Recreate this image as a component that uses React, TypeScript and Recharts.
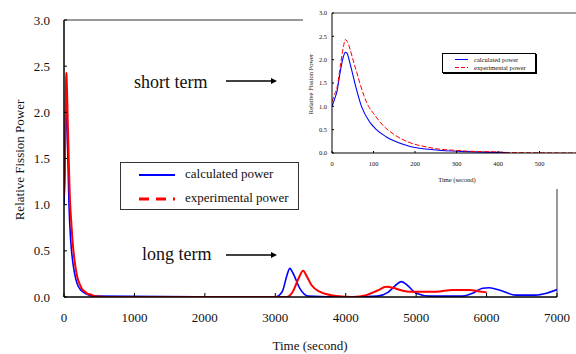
import React from "react";
import {
  LineChart,
  Line,
  XAxis,
  YAxis,
  ReferenceLine,
  Legend,
  Customized,
} from "recharts";

// ---- short term (first ~600 s) ----
const calcShortT = [0, 6, 12, 20, 28, 32, 36, 44, 55, 71, 92, 107, 130, 149, 188, 245, 325, 427];
const calcShortV = [1.0, 1.15, 1.32, 1.75, 2.08, 2.16, 2.14, 1.9, 1.5, 1.0, 0.65, 0.5, 0.35, 0.26, 0.14, 0.07, 0.03, 0.01];
const expShortT = [0, 6, 12, 20, 28, 32, 36, 44, 52, 60, 67, 88, 100, 124, 149, 188, 228, 261, 293, 325, 405, 420, 600];
const expShortV = [1.1, 1.25, 1.4, 1.86, 2.3, 2.43, 2.4, 2.21, 1.95, 1.72, 1.5, 1.0, 0.85, 0.58, 0.4, 0.22, 0.13, 0.08, 0.06, 0.04, 0.02, 0.01, 0];

// ---- long term ----
const calcLongT = [3000, 3100, 3160, 3206, 3250, 3348, 3466, 4000, 4450, 4600, 4700, 4787, 4870, 5000, 5190, 5660, 5800, 5943, 6038, 6200, 6415, 6698, 6850, 7000];
const calcLongV = [0, 0.06, 0.22, 0.31, 0.26, 0.094, 0.01, 0, 0.01, 0.05, 0.12, 0.166, 0.13, 0.04, 0.01, 0.01, 0.04, 0.094, 0.1, 0.07, 0.02, 0.02, 0.04, 0.08];
const expLongT = [3160, 3250, 3330, 3395, 3450, 3513, 3631, 3867, 4103, 4292, 4450, 4575, 4670, 4800, 4905, 5283, 5519, 5755, 5900, 6000];
const expLongV = [0, 0.06, 0.2, 0.285, 0.22, 0.13, 0.057, 0.01, 0, 0.02, 0.07, 0.11, 0.1, 0.07, 0.057, 0.057, 0.076, 0.076, 0.06, 0.05];

// ---- ticks ----
const mainXTicks = [0, 1000, 2000, 3000, 4000, 5000, 6000, 7000];
const yTicks = [0, 0.5, 1.0, 1.5, 2.0, 2.5, 3.0];
const insetXTicks = [0, 100, 200, 300, 400, 500, 600];

const seriesNames = ["calculated power", "experimental power"];

const zip = (ts: number[], vs: number[]) => ts.map((t, i) => ({ t, v: vs[i] }));

const calcMain = zip([...calcShortT, ...calcLongT], [...calcShortV, ...calcLongV]);
const expMain = zip([...expShortT, ...expLongT], [...expShortV, ...expLongV]);
const calcInset = zip(calcShortT, calcShortV);
const expInset = zip(expShortT, expShortV);

const FONT = "'Liberation Serif', 'Times New Roman', serif";
const BLUE = "#0000ff";
const RED = "#ff0000";

const MainLegend = () => (
  <div
    style={{
      position: "relative",
      width: 179,
      height: 48,
      boxSizing: "border-box",
      border: "1px solid #333",
      background: "#fff",
      fontFamily: FONT,
      fontSize: 13,
      color: "#111",
    }}
  >
    <svg width={40} height={48} style={{ position: "absolute", left: 17, top: 0 }}>
      <line x1={1} x2={37} y1={12} y2={12} stroke={BLUE} strokeWidth={2} />
      <line x1={1} x2={37} y1={36} y2={36} stroke={RED} strokeWidth={3} strokeDasharray="10 7" />
    </svg>
    <div style={{ position: "absolute", left: 64, top: 3, whiteSpace: "nowrap" }}>{seriesNames[0]}</div>
    <div style={{ position: "absolute", left: 64, top: 27, whiteSpace: "nowrap" }}>{seriesNames[1]}</div>
  </div>
);

const InsetLegend = () => (
  <div
    style={{
      position: "relative",
      width: 94,
      height: 20,
      boxSizing: "border-box",
      border: "1px solid #000",
      boxShadow: "1px 1px 0 #000",
      background: "#fff",
      fontFamily: FONT,
      fontSize: 6.5,
      color: "#111",
    }}
  >
    <svg width={16} height={20} style={{ position: "absolute", left: 11, top: 0 }}>
      <line x1={1} x2={14} y1={5.5} y2={5.5} stroke={BLUE} strokeWidth={1} />
      <line x1={1} x2={14} y1={13.5} y2={13.5} stroke={RED} strokeWidth={1} strokeDasharray="4 2" />
    </svg>
    <div style={{ position: "absolute", left: 31, top: 1.5, whiteSpace: "nowrap", lineHeight: "7px" }}>{seriesNames[0]}</div>
    <div style={{ position: "absolute", left: 31, top: 9.5, whiteSpace: "nowrap", lineHeight: "7px" }}>{seriesNames[1]}</div>
  </div>
);

const Arrow = ({ x1, x2, y }: { x1: number; x2: number; y: number }) => (
  <g>
    <line x1={x1} x2={x2 - 4} y1={y} y2={y} stroke="#000" strokeWidth={1.5} />
    <polygon points={`${x2},${y} ${x2 - 6},${y - 3} ${x2 - 6},${y + 3}`} fill="#000" />
  </g>
);

const MainAnnotations = () => (
  <g fontFamily={FONT}>
    <text x={134} y={88} fontSize={18} fill="#111">short term</text>
    <Arrow x1={226} x2={277} y={81} />
    <text x={142} y={260} fontSize={18} fill="#111">long term</text>
    <Arrow x1={226} x2={277} y={255} />
    <text x={310} y={350} fontSize={13} textAnchor="middle" fill="#111">Time (second)</text>
    <text x={-160} y={24} transform="rotate(-90)" fontSize={13} textAnchor="middle" fill="#111">
      Relative Fission Power
    </text>
  </g>
);

const InsetAnnotations = () => (
  <g fontFamily={FONT}>
    <text x={154} y={181.5} fontSize={6.5} textAnchor="middle" fill="#111">Time (second)</text>
    <text x={-84} y={10} transform="rotate(-90)" fontSize={6.5} textAnchor="middle" fill="#111">
      Relative Fission Power
    </text>
  </g>
);

export default function App() {
  return (
    <div
      style={{
        position: "absolute",
        left: 0,
        top: 0,
        width: 576,
        height: 354,
        overflow: "hidden",
        background: "#fff",
      }}
    >
      <LineChart width={576} height={354} margin={{ top: 20, right: 19, left: 0, bottom: 17 }}>
        <XAxis
          type="number"
          dataKey="t"
          domain={[0, 7000]}
          ticks={mainXTicks}
          allowDataOverflow
          height={40}
          tickSize={-4}
          tickMargin={20}
          axisLine={{ stroke: "#000", strokeWidth: 1.5 }}
          tickLine={{ stroke: "#000" }}
          tick={{ fontFamily: FONT, fontSize: 13, fill: "#111" }}
        />
        <YAxis
          type="number"
          domain={[0, 3]}
          ticks={yTicks}
          allowDataOverflow
          width={64}
          tickSize={-3}
          tickMargin={17}
          tickFormatter={(v: number) => v.toFixed(1)}
          axisLine={{ stroke: "#000", strokeWidth: 1.5 }}
          tickLine={{ stroke: "#000" }}
          tick={{ fontFamily: FONT, fontSize: 13, fill: "#111" }}
        />
        <ReferenceLine y={3} stroke="#777" strokeWidth={1.5} />
        <ReferenceLine x={7000} stroke="#777" strokeWidth={1.5} />
        <Line
          data={calcMain}
          dataKey="v"
          type="monotone"
          stroke={BLUE}
          strokeWidth={1.6}
          dot={false}
          isAnimationActive={false}
          name={seriesNames[0]}
        />
        <Line
          data={expMain}
          dataKey="v"
          type="monotone"
          stroke={RED}
          strokeWidth={2}
          dot={false}
          isAnimationActive={false}
          name={seriesNames[1]}
        />
        <Legend
          layout="vertical"
          align="center"
          verticalAlign="middle"
          content={() => <MainLegend />}
          wrapperStyle={{ position: "absolute", left: 120, top: 162, width: 179, height: 48 }}
        />
        <Customized component={MainAnnotations} />
      </LineChart>

      <div
        style={{
          position: "absolute",
          left: 303,
          top: 0,
          width: 273,
          height: 189,
          overflow: "hidden",
          background: "#fff",
        }}
      >
        <LineChart width={290} height={189} margin={{ top: 13, right: 12, left: 0, bottom: 16 }}>
          <XAxis
            type="number"
            dataKey="t"
            domain={[0, 600]}
            ticks={insetXTicks}
            allowDataOverflow
            height={20}
            tickSize={-2}
            tickMargin={10}
            axisLine={{ stroke: "#000", strokeWidth: 1 }}
            tickLine={{ stroke: "#000" }}
            tick={{ fontFamily: FONT, fontSize: 6.5, fill: "#111" }}
          />
          <YAxis
            type="number"
            domain={[0, 3]}
            ticks={yTicks}
            allowDataOverflow
            width={29}
            tickSize={-2}
            tickMargin={7}
            tickFormatter={(v: number) => v.toFixed(1)}
            axisLine={{ stroke: "#000", strokeWidth: 1 }}
            tickLine={{ stroke: "#000" }}
            tick={{ fontFamily: FONT, fontSize: 6.5, fill: "#111" }}
          />
          <ReferenceLine y={3} stroke="#444" strokeWidth={1.2} />
          <ReferenceLine x={600} stroke="#444" strokeWidth={1.2} />
          <Line
            data={calcInset}
            dataKey="v"
            type="monotone"
            stroke={BLUE}
            strokeWidth={1.1}
            dot={false}
            isAnimationActive={false}
            name={seriesNames[0]}
          />
          <Line
            data={expInset}
            dataKey="v"
            type="monotone"
            stroke={RED}
            strokeWidth={1}
            strokeDasharray="5 2"
            dot={false}
            isAnimationActive={false}
            name={seriesNames[1]}
          />
          <Legend
            layout="vertical"
            align="center"
            verticalAlign="middle"
            content={() => <InsetLegend />}
            wrapperStyle={{ position: "absolute", left: 139, top: 53, width: 94, height: 20 }}
          />
          <Customized component={InsetAnnotations} />
        </LineChart>
      </div>
    </div>
  );
}
